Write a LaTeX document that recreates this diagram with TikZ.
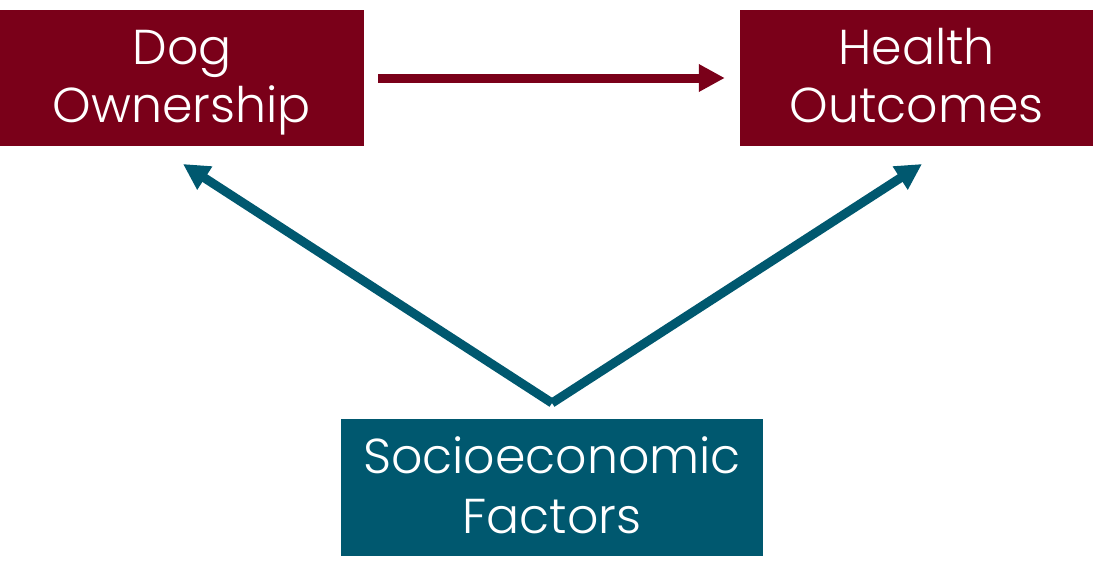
\documentclass[tikz,border=0pt]{standalone}
\usepackage{fontspec}
\setmainfont{Poppins}[UprightFont=* Light]
\usetikzlibrary{arrows.meta}
\definecolor{maroon}{HTML}{7A0019}
\definecolor{teal}{HTML}{00586F}
\tikzstyle{rbox}=[rectangle, fill=maroon, text=white, align=center, inner sep=0pt, minimum height=136pt, text height=100pt, text depth=12pt, font=\fontsize{49}{58}\selectfont]
\tikzstyle{bbox}=[rbox, fill=teal, minimum height=137pt, minimum width=422pt, text height=103pt, font=\fontsize{49}{60}\selectfont]
\tikzstyle{rpost}=[draw=maroon, line width=9pt, -{Triangle[length=26pt,width=26pt]}]
\tikzstyle{bpost}=[rpost, draw=teal, fill=teal]

\begin{document}
\begin{tikzpicture}[x=1pt,y=-1pt]
  \useasboundingbox (0,0) rectangle (1104,579);
  \node[rbox, minimum width=364pt, fill=maroon] (dog) at (182,78) {Dog\\Ownership};
  \node[rbox, minimum width=353pt] (health) at (916.5,78) {Health\\Outcomes};
  \node[bbox] (socio) at (552,487.5) {Socioeconomic\\Factors};

  \coordinate (apex) at (552,403);
  \coordinate (dogtip) at (183,164);
  \coordinate (healthtip) at (922,164);

  \draw[rpost, fill=maroon, shorten <=14pt, shorten >=15pt] (dog) -- (health);
  \draw[bpost] (apex) -- (dogtip);
  \draw[bpost] (apex) -- (healthtip);
\end{tikzpicture}
\end{document}
